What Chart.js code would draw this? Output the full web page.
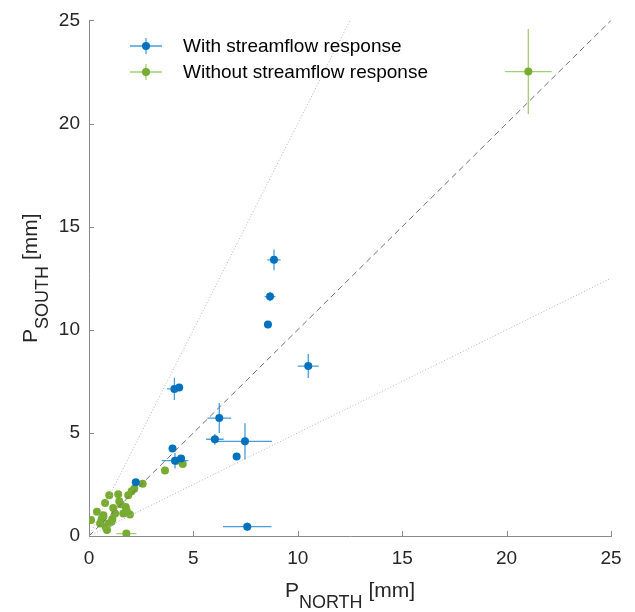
<!DOCTYPE html>
<html>
<head>
<meta charset="utf-8">
<script src="https://cdn.jsdelivr.net/npm/chart.js@4.4.7/dist/chart.umd.min.js"></script>
<style>
  body { margin: 0; background: #fff; }
</style>
</head>
<body>
<div style="width: 635px; height: 612px;">
  <canvas id="wykres" width="635" height="612"></canvas>
</div>
<script>
// events with a streamflow response
const withNorth = [8.86, 8.67, 8.57, 10.50, 4.09, 4.32, 6.24, 6.03, 7.47, 4.00, 7.07, 4.12, 4.41, 2.24, 7.58];
const withSouth = [13.39, 11.61, 10.25, 8.24, 7.13, 7.20, 5.72, 4.69, 4.59, 4.24, 3.85, 3.65, 3.76, 2.61, 0.45];
const withNorthErr = [0.32, 0.26, 0.18, 0.50, 0.36, 0.15, 0.57, 0.42, 1.29, 0.12, 0.12, 0.64, 0.15, 0.12, 1.16];
const withSouthErr = [0.50, 0.23, 0.18, 0.58, 0.54, 0.15, 0.73, 0.26, 0.88, 0.12, 0.12, 0.38, 0.15, 0.12, 0.20];

// events without a streamflow response
const withoutNorth = [0.10, 0.38, 0.53, 0.61, 0.69, 0.77, 0.80, 0.86, 0.92, 0.97, 1.08, 1.12, 1.16, 1.25, 1.40,
  1.45, 1.52, 1.64, 1.76, 1.80, 1.88, 1.96, 2.04, 2.17, 2.57, 3.64, 4.20, 4.49, 1.79, 21.04];
const withoutSouth = [0.77, 1.17, 0.61, 0.85, 1.01, 1.60, 0.42, 0.29, 0.61, 1.97, 0.69, 0.82, 1.36, 1.09, 2.02,
  1.69, 1.54, 1.09, 1.41, 1.25, 1.97, 1.04, 2.17, 2.29, 2.53, 3.17, 3.65, 3.49, 0.12, 22.52];
const withoutNorthErr = [0.05, 0.05, 0.05, 0.05, 0.05, 0.05, 0.05, 0.05, 0.05, 0.05, 0.05, 0.05, 0.05, 0.05, 0.05,
  0.05, 0.05, 0.05, 0.05, 0.05, 0.05, 0.05, 0.05, 0.05, 0.08, 0.08, 0.15, 0.10, 0.48, 1.12];
const withoutSouthErr = [0.05, 0.05, 0.05, 0.05, 0.05, 0.05, 0.05, 0.05, 0.05, 0.05, 0.05, 0.05, 0.05, 0.05, 0.05,
  0.05, 0.05, 0.05, 0.05, 0.05, 0.05, 0.05, 0.05, 0.05, 0.08, 0.08, 0.15, 0.10, 0.05, 2.06];

const legendLabels = ["With streamflow response", "Without streamflow response"];
const refSlopes = [2, 1, 0.5];
const axisTicks = [0, 5, 10, 15, 20, 25];
const axisMax = 25;

const blue = "#0072BD", blueBar = "rgba(40,140,215,0.85)";
const green = "#77AC30", greenBar = "rgba(140,195,80,0.8)";
const axisColor = "#8a8a8a", textColor = "#262626";
const font = "'Liberation Sans', Arial, sans-serif";
const markerR = 4;

function pts(xs, ys) {
  return xs.map((x, i) => ({ x: x, y: ys[i] }));
}

// reference lines through the origin, clipped at the top/right of the axes
function refLine(k) {
  const xEnd = Math.min(axisMax, axisMax / k);
  return [{ x: 0, y: 0 }, { x: xEnd, y: k * xEnd }];
}

const dane = {
  datasets: [
    { data: refLine(refSlopes[0]), showLine: true, borderColor: "#b4b4b4", borderWidth: 1, borderDash: [1, 2], pointRadius: 0 },
    { data: refLine(refSlopes[1]), showLine: true, borderColor: "#6e6e6e", borderWidth: 1, borderDash: [6, 4], pointRadius: 0 },
    { data: refLine(refSlopes[2]), showLine: true, borderColor: "#b4b4b4", borderWidth: 1, borderDash: [1, 2], pointRadius: 0 },
    { label: legendLabels[0], data: pts(withNorth, withSouth), xErr: withNorthErr, yErr: withSouthErr,
      barColor: blueBar, backgroundColor: blue, borderColor: blue, pointRadius: markerR, borderWidth: 0 },
    { label: legendLabels[1], data: pts(withoutNorth, withoutSouth), xErr: withoutNorthErr, yErr: withoutSouthErr,
      barColor: greenBar, backgroundColor: green, borderColor: green, pointRadius: markerR, borderWidth: 0 }
  ]
};

// error bars, inward ticks, subscripted axis titles and the legend
const extras = {
  id: "extras",
  beforeDatasetDraw(chart, args) {
    const ds = chart.data.datasets[args.index];
    if (!ds.xErr) return;
    const c = chart.ctx, xs = chart.scales.x, ys = chart.scales.y;
    c.save();
    c.strokeStyle = ds.barColor;
    c.lineWidth = 1.3;
    ds.data.forEach((p, i) => {
      const px = xs.getPixelForValue(p.x), py = ys.getPixelForValue(p.y);
      c.beginPath();
      c.moveTo(xs.getPixelForValue(p.x - ds.xErr[i]), py);
      c.lineTo(xs.getPixelForValue(p.x + ds.xErr[i]), py);
      c.moveTo(px, ys.getPixelForValue(p.y - ds.yErr[i]));
      c.lineTo(px, ys.getPixelForValue(p.y + ds.yErr[i]));
      c.stroke();
    });
    c.restore();
  },
  afterDraw(chart) {
    const c = chart.ctx, xs = chart.scales.x, ys = chart.scales.y, a = chart.chartArea;
    c.save();
    c.strokeStyle = axisColor;
    c.lineWidth = 1;
    axisTicks.forEach(v => {
      const px = Math.round(xs.getPixelForValue(v)) + 0.5;
      const py = Math.round(ys.getPixelForValue(v)) + 0.5;
      c.beginPath();
      c.moveTo(px, a.bottom); c.lineTo(px, a.bottom - 5);
      c.moveTo(a.left, py); c.lineTo(a.left + 5, py);
      c.stroke();
    });

    // axis titles with subscripts
    function title(main, sub, rest) {
      c.font = "21px " + font;
      const w1 = c.measureText(main).width;
      const w3 = c.measureText(rest).width;
      c.font = "18px " + font;
      const w2 = c.measureText(sub).width;
      let x = -(w1 + w2 + w3) / 2;
      c.fillStyle = textColor;
      c.textBaseline = "alphabetic";
      c.font = "21px " + font;
      c.fillText(main, x, 0);
      c.font = "18px " + font;
      c.fillText(sub, x + w1, 11);
      c.font = "21px " + font;
      c.fillText(rest, x + w1 + w2, 0);
    }
    c.save();
    c.translate((a.left + a.right) / 2, 597);
    title("P", "NORTH", " [mm]");
    c.restore();
    c.save();
    c.translate(37, (a.top + a.bottom) / 2);
    c.rotate(-Math.PI / 2);
    title("P", "SOUTH", " [mm]");
    c.restore();

    // legend
    const rows = [[blue, blueBar], [green, greenBar]];
    rows.forEach((r, i) => {
      const y = 46 + i * 26;
      c.strokeStyle = r[1];
      c.lineWidth = 1.3;
      c.beginPath();
      c.moveTo(130, y); c.lineTo(162, y);
      c.moveTo(146, y - 8); c.lineTo(146, y + 8);
      c.stroke();
      c.fillStyle = r[0];
      c.beginPath();
      c.arc(146, y, markerR, 0, Math.PI * 2);
      c.fill();
      c.fillStyle = "#000";
      c.font = "19px " + font;
      c.textBaseline = "middle";
      c.fillText(legendLabels[i], 183, y + 1);
    });
    c.restore();
  }
};

function axis(pos, size) {
  return {
    type: "linear",
    position: pos,
    min: 0,
    max: axisMax,
    afterBuildTicks: s => { s.ticks = axisTicks.map(v => ({ value: v })); },
    afterFit: s => { if (pos === "left") s.width = size; else s.height = size; },
    grid: { display: false, drawTicks: false },
    border: { display: true, color: axisColor, width: 1 },
    ticks: { color: textColor, font: { family: font, size: 19 }, padding: pos === "left" ? 9 : 11, maxRotation: 0 }
  };
}

const ctx = document.getElementById("wykres").getContext("2d");
const wykres = new Chart(ctx, {
  type: "scatter",
  data: dane,
  options: {
    responsive: false,
    animation: false,
    layout: { padding: { left: 0, right: 24, top: 15, bottom: 0 } },
    scales: { x: axis("bottom", 76), y: axis("left", 89) },
    plugins: { legend: { display: false }, tooltip: { enabled: false } }
  },
  plugins: [extras]
});
</script>
</body>
</html>
